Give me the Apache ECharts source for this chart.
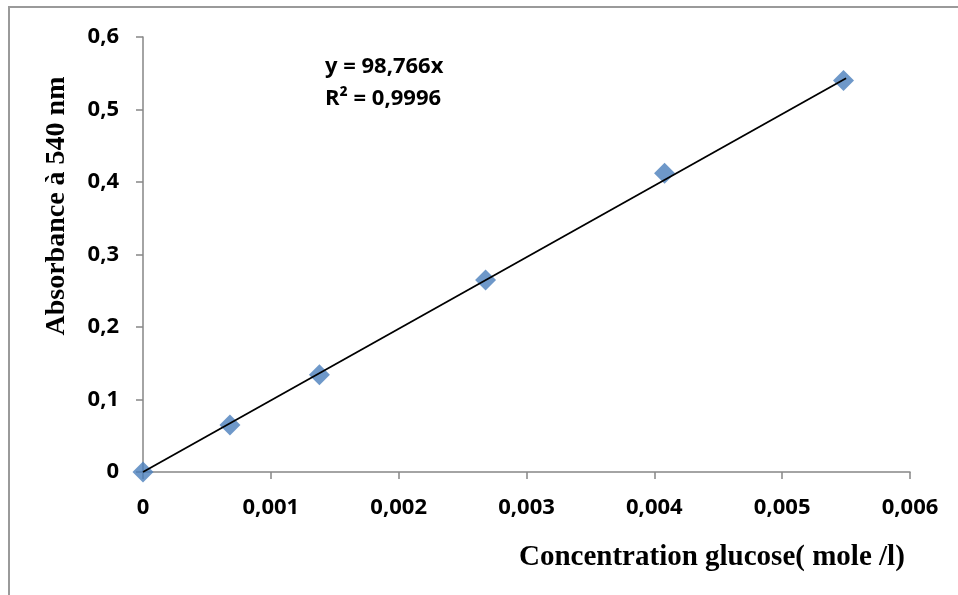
<!DOCTYPE html>
<html>
<head>
<meta charset="utf-8">
<script src="https://cdn.jsdelivr.net/npm/echarts@6/dist/echarts.min.js"></script>
<style>
  html, body { margin: 0; padding: 0; background: #fff; }
  #main { width: 958px; height: 595px; }
</style>
</head>
<body>
<div id="main"></div>
<script type="text/javascript">
// measured points (concentration mol/l, absorbance)
var concData = [0, 0.00068, 0.00138, 0.00268, 0.00408, 0.00548];
var absData  = [0, 0.065, 0.134, 0.265, 0.412, 0.540];
// linear trendline y = 98,766x drawn across the measured range
var trendX = [0, 0.0055];
var trendY = [0, 0.5432];
var xTickLabels = ['0', '0,001', '0,002', '0,003', '0,004', '0,005', '0,006'];
var yTickLabels = ['0', '0,1', '0,2', '0,3', '0,4', '0,5', '0,6'];
var eqLines = ['y = 98,766x', 'R² = 0,9996'];

var labelFont = { fontFamily: 'Open Sans', fontWeight: 'bold', fontSize: 22, color: '#000' };
var axisGray = '#868686';

var chart = echarts.init(document.getElementById('main'));

var option = {
  animation: false,
  backgroundColor: '#fff',
  grid: { left: 143, right: 48, top: 37, bottom: 123 },
  xAxis: {
    type: 'value',
    min: 0, max: 0.006, interval: 0.001,
    splitLine: { show: false },
    axisLine: { lineStyle: { color: axisGray, width: 1.5 } },
    axisTick: { show: true, length: 7, lineStyle: { color: axisGray, width: 1.5 } },
    axisLabel: Object.assign({
      margin: 25,
      formatter: function (v) { return xTickLabels[Math.round(v / 0.001)]; }
    }, labelFont)
  },
  yAxis: {
    type: 'value',
    min: 0, max: 0.6, interval: 0.1,
    splitLine: { show: false },
    axisLine: { show: true, lineStyle: { color: axisGray, width: 1.5 } },
    axisTick: { show: true, length: 7, lineStyle: { color: axisGray, width: 1.5 } },
    axisLabel: Object.assign({
      margin: 24,
      formatter: function (v) { return yTickLabels[Math.round(v / 0.1)]; }
    }, labelFont)
  },
  series: [
    {
      type: 'scatter',
      symbol: 'diamond',
      symbolSize: 21,
      itemStyle: { color: '#4A7EBB' },
      data: concData.map(function (x, i) { return [x, absData[i]]; }),
      z: 2
    },
    {
      type: 'line',
      symbol: 'none',
      lineStyle: { color: '#000', width: 1.8 },
      data: trendX.map(function (x, i) { return [x, trendY[i]]; }),
      z: 3
    }
  ],
  graphic: [
    {
      type: 'rect',
      shape: { x: 9, y: 7, width: 1000, height: 1000 },
      style: { fill: 'none', stroke: '#9a9a9a', lineWidth: 2 },
      silent: true
    },
    {
      type: 'text', left: 325, top: 56,
      style: { text: eqLines[0], font: 'bold 22px "Open Sans"', fill: '#000' }
    },
    {
      type: 'text', left: 325, top: 88,
      style: { text: eqLines[1], font: 'bold 22px "Open Sans"', fill: '#000' }
    },
    {
      type: 'text', left: 519, top: 543,
      style: { text: 'Concentration glucose( mole /l)', font: 'bold 29px "Liberation Serif"', fill: '#000' }
    },
    {
      type: 'text',
      x: 57, y: 206,
      rotation: Math.PI / 2,
      style: {
        text: 'Absorbance à 540 nm',
        font: 'bold 28px "Liberation Serif"',
        fill: '#000',
        align: 'center',
        verticalAlign: 'middle'
      }
    }
  ]
};

chart.setOption(option);

window.addEventListener('resize', function () { chart.resize(); });
</script>
</body>
</html>
